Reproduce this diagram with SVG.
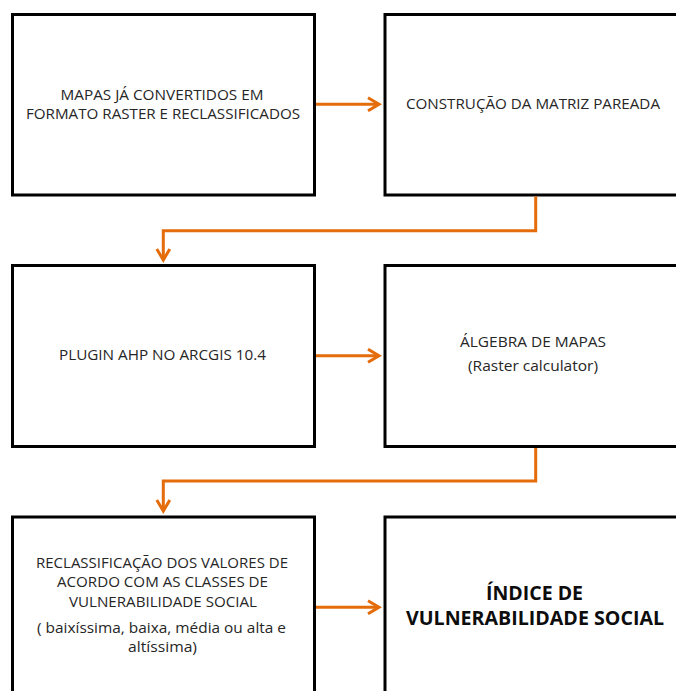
<svg xmlns="http://www.w3.org/2000/svg" width="676" height="691" viewBox="0 0 676 691">
  <style>
    .box { fill: #ffffff; stroke: #000000; stroke-width: 3; }
    .lbl { font-family: "Open Sans", "Liberation Sans", sans-serif; font-size: 15px; fill: #262626; text-anchor: middle; }
    .big { font-family: "Open Sans", "Liberation Sans", sans-serif; font-size: 19px; font-weight: bold; fill: #0d0d0d; text-anchor: middle; }
    .conn { fill: none; stroke: #E46C0A; stroke-width: 3; }
  </style>
  <defs>
    <marker id="chev" markerUnits="userSpaceOnUse" markerWidth="16" markerHeight="16" refX="13" refY="8" orient="auto">
      <path d="M2,1.5 L13,8 L2,14.5" fill="none" stroke="#E46C0A" stroke-width="3"/>
    </marker>
  </defs>
  <rect width="676" height="691" fill="#ffffff"/>

  <g id="node-mapas">
    <rect class="box" x="12.5" y="14.5" width="302" height="180.5"/>
    <text class="lbl" x="162" y="100" textLength="203" lengthAdjust="spacingAndGlyphs">MAPAS JÁ CONVERTIDOS EM</text>
    <text class="lbl" x="163" y="119" textLength="274" lengthAdjust="spacingAndGlyphs">FORMATO RASTER E RECLASSIFICADOS</text>
  </g>

  <g id="node-matriz">
    <rect class="box" x="385" y="14.5" width="300" height="180.5"/>
    <text class="lbl" x="533" y="109" textLength="254" lengthAdjust="spacingAndGlyphs">CONSTRUÇÃO DA MATRIZ PAREADA</text>
  </g>

  <g id="node-plugin">
    <rect class="box" x="12.5" y="265.5" width="302" height="181"/>
    <text class="lbl" x="162.5" y="360" textLength="207" lengthAdjust="spacingAndGlyphs">PLUGIN AHP NO ARCGIS 10.4</text>
  </g>

  <g id="node-algebra">
    <rect class="box" x="385" y="265.5" width="300" height="181"/>
    <text class="lbl" x="533" y="347" textLength="146" lengthAdjust="spacingAndGlyphs">ÁLGEBRA DE MAPAS</text>
    <text class="lbl" x="533" y="371" textLength="130" lengthAdjust="spacingAndGlyphs">(Raster calculator)</text>
  </g>

  <g id="node-reclass">
    <rect class="box" x="12.5" y="517" width="302" height="190"/>
    <text class="lbl" x="162" y="568" textLength="252" lengthAdjust="spacingAndGlyphs">RECLASSIFICAÇÃO DOS VALORES DE</text>
    <text class="lbl" x="162.5" y="587" textLength="211" lengthAdjust="spacingAndGlyphs">ACORDO COM AS CLASSES DE</text>
    <text class="lbl" x="163" y="607" textLength="188" lengthAdjust="spacingAndGlyphs">VULNERABILIDADE  SOCIAL</text>
    <text class="lbl" x="161.5" y="633" textLength="249" lengthAdjust="spacingAndGlyphs">( baixíssima, baixa,  média ou alta e</text>
    <text class="lbl" x="162.5" y="652" textLength="69" lengthAdjust="spacingAndGlyphs">altíssima)</text>
  </g>

  <g id="node-indice">
    <rect class="box" x="385" y="517" width="300" height="190"/>
    <text class="big" x="534.5" y="600" textLength="97" lengthAdjust="spacingAndGlyphs">ÍNDICE DE</text>
    <text class="big" x="535" y="625" textLength="258" lengthAdjust="spacingAndGlyphs">VULNERABILIDADE SOCIAL</text>
  </g>

  <g id="connectors">
    <path class="conn" d="M316,104.3 L379,104.3" marker-end="url(#chev)"/>
    <path class="conn" d="M535.7,196.5 L535.7,230.7 L163.3,230.7 L163.3,260" marker-end="url(#chev)"/>
    <path class="conn" d="M316,355.7 L379,355.7" marker-end="url(#chev)"/>
    <path class="conn" d="M535.7,448 L535.7,481 L163.3,481 L163.3,511" marker-end="url(#chev)"/>
    <path class="conn" d="M316,607.3 L379,607.3" marker-end="url(#chev)"/>
  </g>
</svg>
